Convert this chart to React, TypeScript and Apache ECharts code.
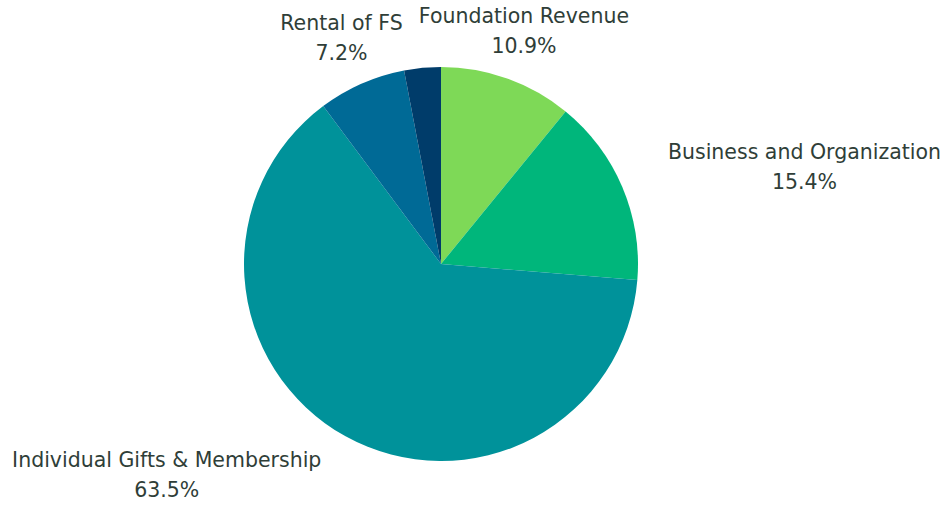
import React, { useEffect, useRef } from "react";
import * as echarts from "echarts";

const categories = [
  "Foundation Revenue",
  "Business and Organization",
  "Individual Gifts & Membership",
  "Rental of FS",
  "Other",
];
const values = [10.9, 15.4, 63.5, 7.2, 3.0];
const showLabel = [true, true, true, true, false];
const colors = ["#7ED957", "#00B67B", "#00929A", "#006A96", "#003C6A"];

const CX = 441;
const CY = 264;
const R = 197;
const LABEL_R = 247;

export default function App() {
  const ref = useRef<HTMLDivElement>(null);
  useEffect(() => {
    if (!ref.current) return;
    const chart = echarts.init(ref.current, null, { renderer: "svg" });
    const total = values.reduce((a, b) => a + b, 0);
    const mids: number[] = [];
    let acc = 0;
    values.forEach((v) => {
      mids.push(((acc + v / 2) / total) * Math.PI * 2);
      acc += v;
    });
    chart.setOption({
      animation: false,
      backgroundColor: "#ffffff",
      series: [
        {
          type: "pie",
          center: [CX, CY],
          radius: R,
          startAngle: 90,
          clockwise: true,
          avoidLabelOverlap: false,
          label: {
            show: true,
            position: "outside",
            formatter: (p: any) => `${p.name}\n${p.value.toFixed(1)}%`,
            fontFamily: "DejaVu Sans",
            fontSize: 20.5,
            lineHeight: 30,
            color: "#2F3E38",
            align: "center",
          },
          labelLine: { show: false },
          labelLayout: (params: any) => {
            const th = mids[params.dataIndex];
            const s = Math.sin(th);
            const c = Math.cos(th);
            const w = params.labelRect ? params.labelRect.width : 0;
            const h = params.labelRect ? params.labelRect.height : 0;
            let x = CX + LABEL_R * s;
            let y = CY - LABEL_R * c;
            if (s > 0.45) x += w / 2;
            else if (s < -0.45) x -= w / 2;
            x = Math.min(Math.max(x, w / 2 + 2), 942 - w / 2 - 1);
            y = Math.min(Math.max(y, h / 2), 505 - h / 2);
            return { x, y, align: "center", verticalAlign: "middle" };
          },
          itemStyle: { borderWidth: 0 },
          emphasis: { disabled: true },
          data: categories.map((name, i) => ({
            name,
            value: values[i],
            itemStyle: { color: colors[i] },
            label: { show: showLabel[i] },
          })),
        },
      ],
    });
    return () => chart.dispose();
  }, []);
  return (
    <div
      ref={ref}
      style={{ position: "fixed", left: 0, top: 0, width: 942, height: 505 }}
    />
  );
}
